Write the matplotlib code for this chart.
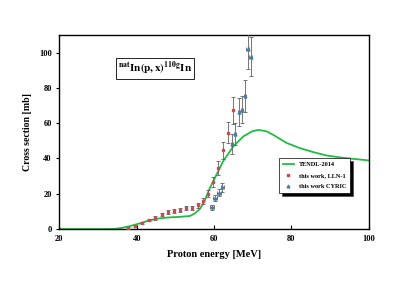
import matplotlib
matplotlib.use("Agg")
import matplotlib.pyplot as plt
import numpy as np

plt.rcParams['font.family'] = ['Liberation Serif', 'DejaVu Serif']
plt.rcParams['font.weight'] = 'bold'
plt.rcParams['mathtext.fontset'] = 'stix'

# TENDL-2014 curve
tendl_e = [20, 25, 30, 33, 34.4, 36, 38.2, 40.8, 43.4, 46, 48.6, 51.2, 53.8, 55.1, 56.4, 57.5,
           58.9, 60.7, 62.4, 65, 67.6, 70, 71.5, 73.6, 75.5, 78.8, 82.2, 85.7, 89.1, 92.6, 96, 100]
tendl_cs = [0, 0, 0, 0, 0.1, 0.6, 1.6, 3.2, 5.0, 6.1, 6.6, 6.9, 7.4, 8.9, 11.5, 15.5,
            23, 31, 38.5, 46.8, 52.5, 55.5, 56.2, 55.4, 53.2, 48.8, 45.9, 43.6, 41.7, 40.6, 39.8, 38.9]

# this work, LLN-1
lln_e = [37.7, 39.5, 41.5, 43.2, 44.8, 46.6, 48.2, 49.7, 51.3, 52.8, 54.3, 55.8, 57.2, 58.5, 59.7, 61.0, 62.4, 63.7, 65.0]
lln_cs = [0.4, 1.7, 3.4, 5.1, 6.3, 8.3, 9.5, 10.2, 11.0, 12.0, 12.0, 13.5, 16.0, 20.0, 26.6, 34.5, 44.6, 54.5, 67.2]
lln_err = [0.5, 0.6, 0.7, 0.8, 0.9, 1.0, 1.1, 1.1, 1.2, 1.3, 1.3, 1.5, 1.7, 2.0, 2.7, 4.0, 5.0, 6.0, 7.8]

# this work CYRIC
cyr_e = [59.5, 60.3, 61.2, 62.2, 64.6, 65.4, 66.4, 67.2, 68.0, 68.7, 69.5]
cyr_cs = [12.3, 17.6, 20.7, 23.7, 48.2, 53.9, 66.2, 67.6, 75.3, 101.9, 97.7]
cyr_err = [1.5, 1.8, 2.0, 2.5, 5.5, 6.0, 8.0, 7.6, 9.0, 11.0, 11.0]
cyr_xerr = [0.5, 0.5, 0.5, 0.5, 0.3, 0.3, 0.3, 0.3, 0.3, 0.3, 0.3]

red = '#d04848'
blue = '#4a7fa0'

fig = plt.figure(figsize=(4.15, 2.94), dpi=100)
ax = fig.add_axes([0.143, 0.221, 0.745, 0.660])

ax.plot(tendl_e, tendl_cs, color='#22bb44', lw=1.3, label='TENDL-2014', zorder=2)
ax.errorbar(lln_e, lln_cs, yerr=lln_err, fmt='s', ms=2.0, color=red,
            ecolor='#606060', elinewidth=0.6, capsize=1.2, capthick=0.6, zorder=3)
ax.errorbar(cyr_e, cyr_cs, yerr=cyr_err, xerr=cyr_xerr, fmt='^', ms=2.0, color=blue,
            ecolor='#606060', elinewidth=0.6, capsize=1.2, capthick=0.6, zorder=3)
# legend handles only
ax.plot([], [], 's', ms=2.0, color=red, label='this work, LLN-1')
ax.plot([], [], '^', ms=2.0, color=blue, label='this work CYRIC')

ax.set_xlim(20, 100)
ax.set_ylim(0, 110)
ax.set_xticks([20, 40, 60, 80, 100])
ax.set_yticks([0, 20, 40, 60, 80, 100])
ax.tick_params(axis='x', direction='in', labelsize=6, length=3, pad=4)
ax.tick_params(axis='y', direction='out', labelsize=6, length=2)
for s in ax.spines.values():
    s.set_linewidth(1.0)
ax.set_xlabel('Proton energy [MeV]', fontsize=7.5, fontweight='bold', labelpad=5)
ax.set_ylabel('Cross section [mb]', fontsize=7, fontweight='bold', labelpad=5)

ax.text(0.19, 0.81, r'$\mathbf{^{nat}In(p,x)^{110g}In}$', transform=ax.transAxes,
        fontsize=8, bbox=dict(boxstyle='square,pad=0.15', fc='white', ec='black', lw=0.6))

leg = ax.legend(loc='lower right', bbox_to_anchor=(0.95, 0.17), fontsize=4.5,
                frameon=True, fancybox=False, shadow={'fc': 'black', 'alpha': 1.0},
                edgecolor='black', handlelength=1.8, borderpad=0.6, labelspacing=0.9)
leg.get_frame().set_linewidth(0.5)

fig.savefig('out.png', dpi=100)
